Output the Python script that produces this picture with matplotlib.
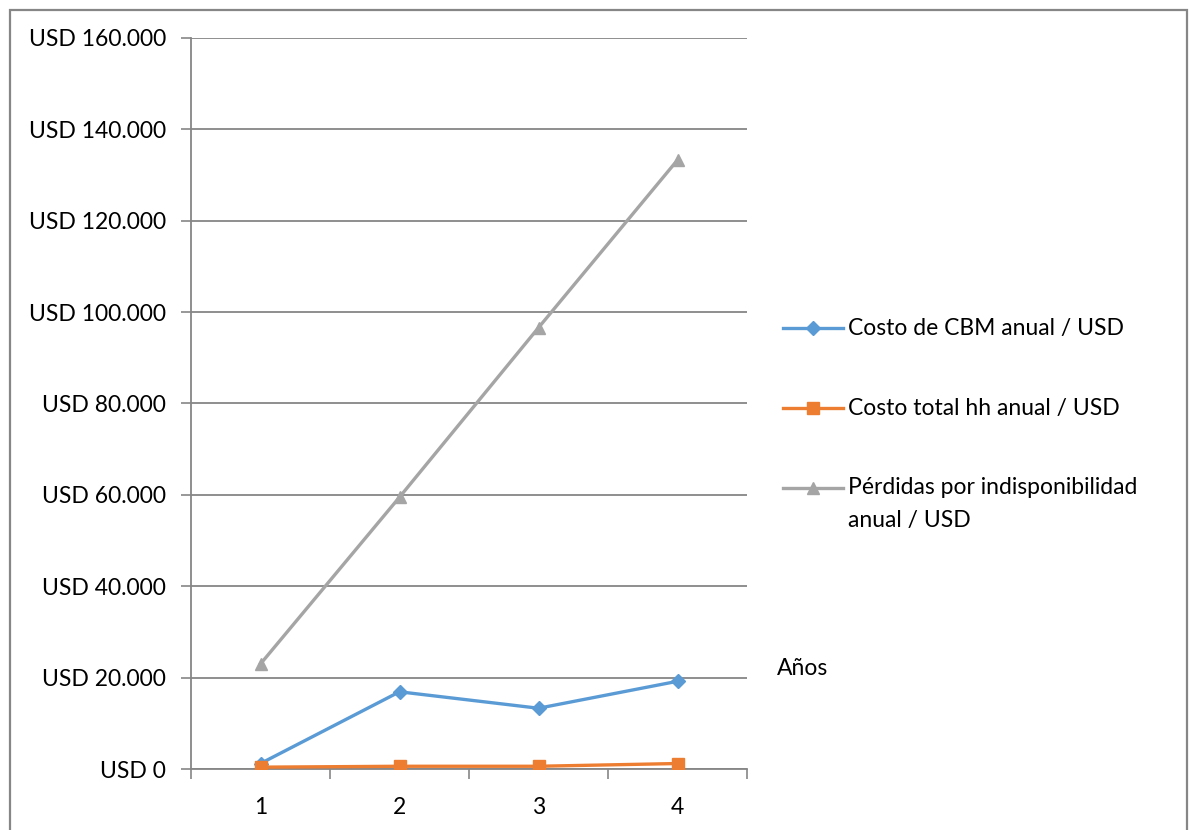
import matplotlib
matplotlib.use("Agg")
import matplotlib.pyplot as plt
from matplotlib.lines import Line2D
from matplotlib.patches import Rectangle
from matplotlib.ticker import FuncFormatter, MultipleLocator

plt.rcParams['font.family'] = ['Lato', 'DejaVu Sans']

years = [1, 2, 3, 4]
costo_cbm = [1200, 16900, 13300, 19200]
costo_hh = [400, 600, 600, 1200]
perdidas = [23000, 59500, 96600, 133300]
labels = ["Costo de CBM anual / USD", "Costo total hh anual / USD",
          "Pérdidas por indisponibilidad\nanual / USD"]
x_label = "Años"

colors = ["#5B9BD5", "#ED7D31", "#A5A5A5"]
markers = ["D", "s", "^"]
msizes = [7, 8.5, 8.5]
grid_c = "#868686"
FS = 16.5

fig = plt.figure(figsize=(11.89, 8.30), dpi=100)
W, H = 1189, 830
ax = fig.add_axes([191 / W, (H - 769) / H, (747 - 191) / W, (769 - 38) / H])

series = [costo_cbm, costo_hh, perdidas]
for vals, c, m, ms in zip(series, colors, markers, msizes):
    ax.plot(years, vals, color=c, marker=m, markersize=ms, linewidth=2.4,
            markeredgecolor=c, zorder=3)

ax.set_xlim(0.5, 4.5)
ax.set_ylim(0, 160000)
ax.yaxis.set_major_locator(MultipleLocator(20000))
ax.yaxis.set_major_formatter(FuncFormatter(
    lambda v, p: "USD " + f"{int(v):,}".replace(",", ".")))
ax.set_xticks(years)
ax.set_xticks([0.5, 1.5, 2.5, 3.5, 4.5], minor=True)
ax.tick_params(axis='x', which='major', length=0, pad=20, labelsize=FS)
ax.tick_params(axis='x', which='minor', length=7, width=1.2, color=grid_c, direction='out')
ax.tick_params(axis='y', length=7, width=1.2, color=grid_c, direction='out', pad=11, labelsize=FS)
ax.grid(axis='y', color=grid_c, linewidth=1.3)
ax.set_axisbelow(True)
for s in ['top', 'right']:
    ax.spines[s].set_visible(False)
for s in ['left', 'bottom']:
    ax.spines[s].set_color(grid_c)
    ax.spines[s].set_linewidth(1.3)
ax.spines['bottom'].set_zorder(2.5)

# legend (manual, so the handle aligns with the first text line)
leg_y = [328, 408, 488]
for c, m, ms, lab, yy in zip(colors, markers, msizes, labels, leg_y):
    fy = (H - yy) / H
    fig.add_artist(Line2D([783 / W, 843 / W], [fy, fy], color=c, linewidth=2.4,
                          transform=fig.transFigure))
    fig.add_artist(Line2D([813 / W], [fy], color=c, marker=m, markersize=ms,
                          markeredgecolor=c, transform=fig.transFigure))
    nlines = lab.count('\n') + 1
    ty = (H - (yy + 16 * (nlines - 1))) / H
    fig.text(848 / W, ty, lab, fontsize=FS, va='center', ha='left',
             linespacing=1.65)

fig.text(777 / W, (H - 668) / H, x_label, fontsize=FS, va='center', ha='left')

# outer frame
fig.add_artist(Rectangle((10 / W, -0.05), (1187 - 10) / W, (H - 10) / H + 0.05,
                         fill=False, edgecolor=grid_c, linewidth=1.6,
                         transform=fig.transFigure))

fig.savefig("out.png", dpi=100)
